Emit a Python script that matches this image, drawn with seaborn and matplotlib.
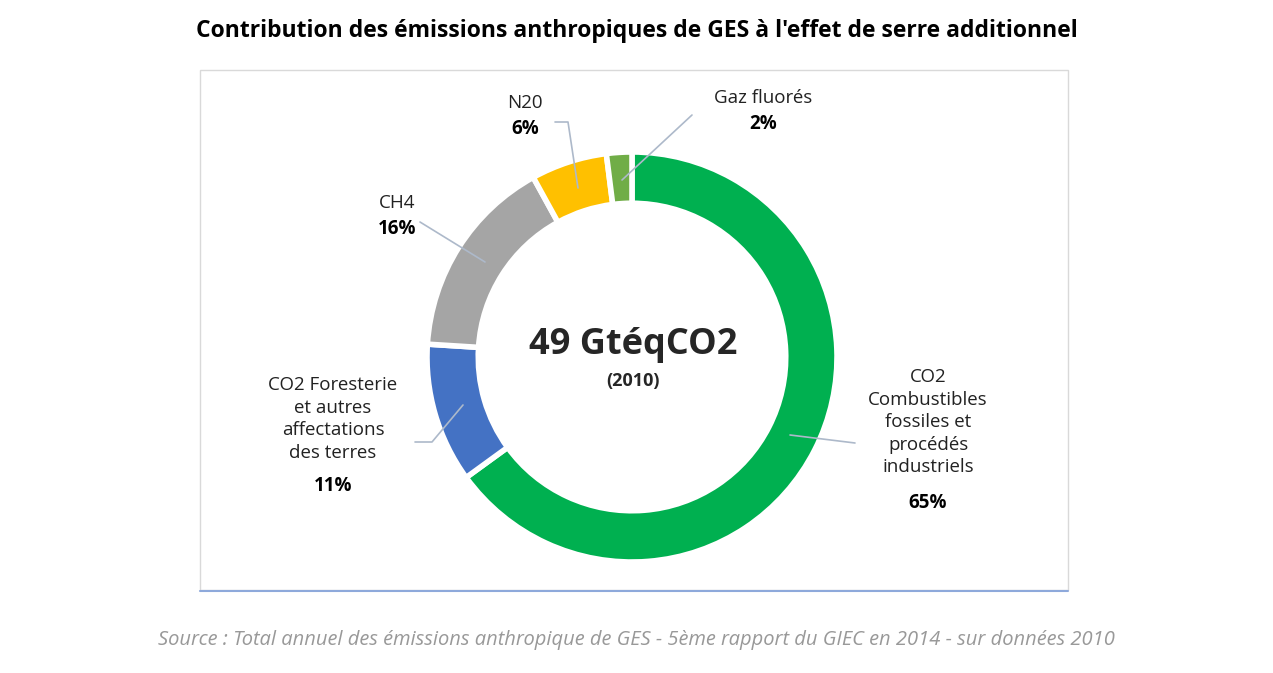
import matplotlib
matplotlib.use("Agg")
import matplotlib.pyplot as plt
import seaborn as sns
from matplotlib.patches import Rectangle
from matplotlib.lines import Line2D

categories = ["CO2 Combustibles fossiles et procédés industriels",
              "CO2 Foresterie et autres affectations des terres",
              "CH4", "N20", "Gaz fluorés"]
values = [65, 11, 16, 6, 2]
colors = ["#00B050", "#4472C4", "#A5A5A5", "#FFC000", "#70AD47"]

sns.set_theme(style="white", font="Open Sans")
W, H = 1273, 673
fig = plt.figure(figsize=(W/100, H/100), dpi=100)
fig.patch.set_facecolor("white")

def fx(px): return px / W
def fy(py): return 1 - py / H

fig.add_artist(Rectangle((fx(200), fy(590)), fx(1068)-fx(200), fy(70)-fy(590),
                         transform=fig.transFigure, fill=False, edgecolor="#D9D9D9", lw=1))
fig.add_artist(Line2D([fx(200), fx(1068)], [fy(591), fy(591)], transform=fig.transFigure,
                      color="#8EA9DB", lw=1.5))

cx, cy, R = 632, 357, 205
ax = fig.add_axes([fx(cx-R), fy(cy+R), 2*R/W, 2*R/H])
ax.pie(values, colors=colors, startangle=90, counterclock=False, radius=1,
       wedgeprops=dict(width=0.25, edgecolor="white", linewidth=4))
ax.set_xlim(-1, 1); ax.set_ylim(-1, 1); ax.set_aspect("auto"); ax.axis("off")

fig.text(0.5, fy(31), "Contribution des émissions anthropiques de GES à l'effet de serre additionnel",
         ha="center", va="center", fontsize=16.5, fontweight="bold", color="black")
fig.text(fx(633), fy(345), "49 GtéqCO2", ha="center", va="center", fontsize=26, fontweight="bold")
fig.text(fx(633), fy(381), "(2010)", ha="center", va="center", fontsize=13, fontweight="bold")

lab = dict(ha="center", fontsize=13.5, color="#222222")
pct = dict(ha="center", fontsize=13.5, fontweight="bold", color="black")
def label(x, ytop, name, p):
    fig.text(fx(x), fy(ytop), name, va="top", linespacing=1.33, **lab)
    n = name.count("\n") + 1
    fig.text(fx(x), fy(ytop + n*25), f"{p}%", va="top", **pct)

label(525, 94, categories[3], values[3])
label(763, 89, categories[4], values[4])
label(397, 194, categories[2], values[2])
label(333, 376, "CO2 Foresterie\net autres\naffectations\ndes terres", values[1])
label(928, 368, "CO2\nCombustibles\nfossiles et\nprocédés\nindustriels", values[0])

lc = "#ADB9CA"
def leader(pts):
    fig.add_artist(Line2D([fx(p[0]) for p in pts], [fy(p[1]) for p in pts],
                          transform=fig.transFigure, color=lc, lw=1.2))
leader([(555, 122), (568, 122), (578, 188)])
leader([(692, 115), (622, 180)])
leader([(420, 222), (485, 262)])
leader([(415, 442), (432, 442), (463, 405)])
leader([(855, 443), (790, 435)])

fig.text(0.5, fy(640), "Source : Total annuel des émissions anthropique de GES - 5ème rapport du GIEC en 2014 - sur données 2010",
         ha="center", va="center", fontsize=14.5, style="italic", color="#999999")

fig.savefig("out.png", dpi=100)
